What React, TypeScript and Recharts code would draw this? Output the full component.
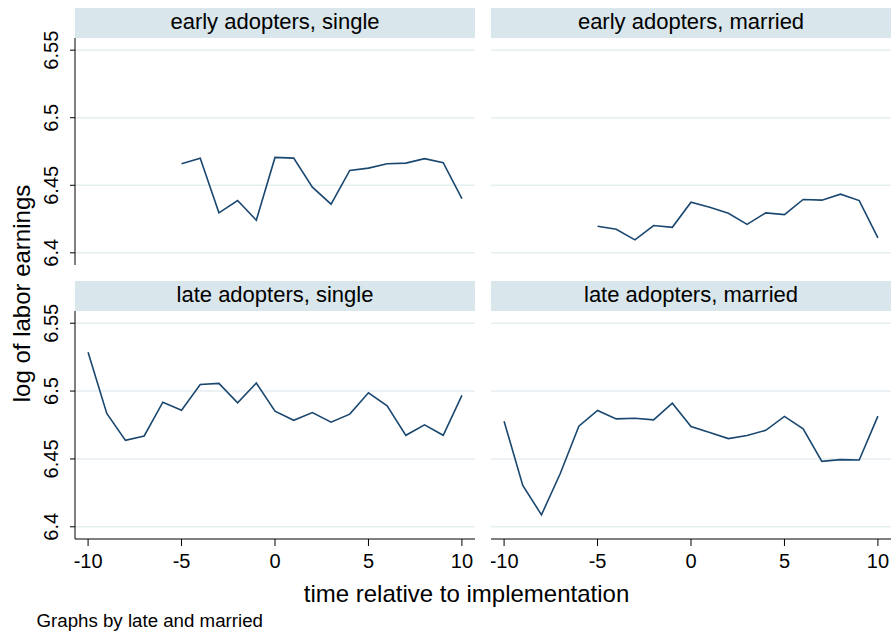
import React from 'react';
import { LineChart, Line, XAxis, YAxis, CartesianGrid } from 'recharts';

const fontFamily = '"Liberation Sans", Arial, Helvetica, sans-serif';

// time relative to implementation
const periodsEarly = [-5, -4, -3, -2, -1, 0, 1, 2, 3, 4, 5, 6, 7, 8, 9, 10];
const periodsLate = [-10, -9, -8, -7, -6, -5, -4, -3, -2, -1, 0, 1, 2, 3, 4, 5, 6, 7, 8, 9, 10];

// log of labor earnings
const earlySingle = [6.4659, 6.4701, 6.4296, 6.4387, 6.4241, 6.4706, 6.4701, 6.4486, 6.4360, 6.4610, 6.4627, 6.4659, 6.4664, 6.4697, 6.4667, 6.4402];
const earlyMarried = [6.4197, 6.4174, 6.4096, 6.4202, 6.4189, 6.4375, 6.4338, 6.4293, 6.4211, 6.4296, 6.4283, 6.4395, 6.4390, 6.4434, 6.4387, 6.4111];
const lateSingle = [6.5286, 6.4835, 6.4637, 6.4669, 6.4918, 6.4859, 6.5049, 6.5057, 6.4913, 6.5059, 6.4852, 6.4785, 6.4842, 6.4771, 6.4830, 6.4987, 6.4891, 6.4674, 6.4751, 6.4674, 6.4968];
const lateMarried = [6.4778, 6.4305, 6.4088, 6.4391, 6.4741, 6.4857, 6.4795, 6.4800, 6.4788, 6.4911, 6.4739, 6.4694, 6.4650, 6.4672, 6.4711, 6.4813, 6.4721, 6.4482, 6.4495, 6.4492, 6.4815];

const yTicks = [6.4, 6.45, 6.5, 6.55];
const yTickLabels = ['6.4', '6.45', '6.5', '6.55'];
const xTicks = [-10, -5, 0, 5, 10];
const xTickLabels = ['-10', '-5', '0', '5', '10'];

const panelTitles = ['early adopters, single', 'early adopters, married', 'late adopters, single', 'late adopters, married'];

const yDomain = [6.391, 6.559];
const xDomain = [-10.7, 10.7];

const navy = '#1a476f';
const stripFill = '#d9e6eb';
const gridColor = '#e4edf0';

// extra room above/below the plot so rotated tick labels are not clipped
const pad = 20;

const toRows = (periods: number[], values: number[]) =>
  periods.map((t, i) => ({ t, v: values[i] }));

function YTick(props: any) {
  const { x, y, payload } = props;
  const idx = yTicks.indexOf(payload.value);
  const bx = x - 11.5;
  return (
    <text
      x={bx}
      y={y}
      transform={`rotate(-90, ${bx}, ${y})`}
      textAnchor="middle"
      fontSize={20}
      fontFamily={fontFamily}
      fill="#000"
    >
      {idx >= 0 ? yTickLabels[idx] : payload.value}
    </text>
  );
}

function XTick(props: any) {
  const { x, y, payload } = props;
  const idx = xTicks.indexOf(payload.value);
  return (
    <text x={x} y={y + 22} textAnchor="middle" fontSize={20} fontFamily={fontFamily} fill="#000">
      {idx >= 0 ? xTickLabels[idx] : payload.value}
    </text>
  );
}

interface PanelProps {
  rows: { t: number; v: number }[];
  left: number;
  top: number;
  width: number;
  plotHeight: number;
  showY: boolean;
  showX: boolean;
}

function Panel({ rows, left, top, width, plotHeight, showY, showX }: PanelProps) {
  const xh = showX ? 40 : 0;
  const bottom = showX ? 0 : pad;
  const height = pad + plotHeight + xh + bottom;
  return (
    <div style={{ position: 'absolute', left, top: top - pad, width, height }}>
      <LineChart width={width} height={height} data={rows} margin={{ top: pad, right: 0, bottom, left: 0 }}>
        <CartesianGrid vertical={false} stroke={gridColor} strokeWidth={1.5} horizontalValues={yTicks} />
        <XAxis
          type="number"
          dataKey="t"
          domain={xDomain}
          ticks={xTicks}
          hide={!showX}
          height={40}
          tickSize={7}
          tickMargin={0}
          axisLine={{ stroke: '#000', strokeWidth: 1 }}
          tickLine={{ stroke: '#000', strokeWidth: 1 }}
          tick={(p: any) => <XTick {...p} />}
          allowDataOverflow
        />
        <YAxis
          type="number"
          domain={yDomain}
          ticks={yTicks}
          hide={!showY}
          width={75}
          tickSize={5}
          tickMargin={0}
          axisLine={{ stroke: '#000', strokeWidth: 1 }}
          tickLine={{ stroke: '#000', strokeWidth: 1 }}
          tick={(p: any) => <YTick {...p} />}
          allowDataOverflow
        />
        <Line type="linear" dataKey="v" stroke={navy} strokeWidth={1.6} dot={false} isAnimationActive={false} />
      </LineChart>
    </div>
  );
}

export default function App() {
  const strips = [
    { x: 75, y: 8, w: 400 },
    { x: 491, y: 8, w: 400 },
    { x: 75, y: 281, w: 400 },
    { x: 491, y: 281, w: 400 },
  ];
  return (
    <div style={{ position: 'absolute', left: 0, top: 0, width: 893, height: 632, background: '#fff', overflow: 'hidden' }}>
      <svg width={893} height={632} style={{ position: 'absolute', left: 0, top: 0 }}>
        {strips.map((s, i) => (
          <g key={i}>
            <rect x={s.x} y={s.y} width={s.w} height={30} fill={stripFill} />
            <text x={s.x + s.w / 2} y={s.y + 20.5} textAnchor="middle" fontSize={22} fontFamily={fontFamily} fill="#000">
              {panelTitles[i]}
            </text>
          </g>
        ))}
        <text
          x={30}
          y={293.5}
          transform="rotate(-90, 30, 293.5)"
          textAnchor="middle"
          fontSize={24}
          fontFamily={fontFamily}
          fill="#000"
        >
          log of labor earnings
        </text>
        <text x={466.5} y={602.3} textAnchor="middle" fontSize={24} fontFamily={fontFamily} fill="#000">
          time relative to implementation
        </text>
        <text x={36.5} y={627.3} fontSize={18.7} fontFamily={fontFamily} fill="#000">
          Graphs by late and married
        </text>
      </svg>
      <Panel rows={toRows(periodsEarly, earlySingle)} left={0} top={38} width={475} plotHeight={227} showY showX={false} />
      <Panel rows={toRows(periodsEarly, earlyMarried)} left={491} top={38} width={400} plotHeight={227} showY={false} showX={false} />
      <Panel rows={toRows(periodsLate, lateSingle)} left={0} top={311} width={475} plotHeight={228} showY showX />
      <Panel rows={toRows(periodsLate, lateMarried)} left={491} top={311} width={400} plotHeight={228} showY={false} showX />
    </div>
  );
}
